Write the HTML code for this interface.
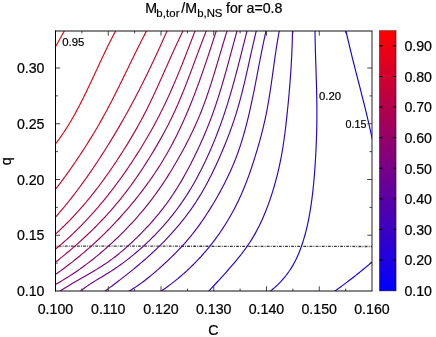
<!DOCTYPE html>
<html><head><meta charset="utf-8"><title>M_b,tor/M_b,NS for a=0.8</title>
<style>html,body{margin:0;padding:0;background:#fff;overflow:hidden}svg{display:block;will-change:transform;font-family:"Liberation Sans",sans-serif}</style></head>
<body>
<svg width="436" height="337" viewBox="0 0 436 337">
<rect x="0" y="0" width="436" height="337" fill="#ffffff"/>
<defs><linearGradient id="cb" x1="0" y1="0" x2="0" y2="1"><stop offset="0" stop-color="rgb(255,0,0)"/><stop offset="1" stop-color="rgb(0,0,255)"/></linearGradient><clipPath id="clip"><rect x="55.5" y="31.0" width="316.5" height="260.0"/></clipPath></defs>
<path d="M55.5,246.05L372.0,246.5" stroke="#3c3c3c" stroke-width="1.3" stroke-dasharray="2.9,1.16,0.9,1.16" stroke-dashoffset="3.04" fill="none"/>
<g fill="none" stroke-width="1.15" clip-path="url(#clip)" stroke-linecap="butt">
<path d="M65.28,29.26L54.52,48.44" stroke="rgb(255,0,0)"/>
<path d="M116.55,29.24L115.58,31.03L114.63,32.82L113.68,34.62L112.74,36.42L111.81,38.22L110.89,40.03L109.97,41.85L109.06,43.66L108.16,45.49L107.26,47.31L106.37,49.14L105.49,50.97L104.61,52.80L103.74,54.63L102.86,56.47L102.00,58.31L101.13,60.15L100.27,61.99L99.41,63.83L98.55,65.68L97.69,67.52L96.84,69.37L95.98,71.21L95.12,73.06L94.27,74.90L93.41,76.75L92.55,78.59L91.69,80.43L90.82,82.27L89.96,84.11L89.09,85.95L88.21,87.78L87.33,89.62L86.45,91.45L85.56,93.28L84.67,95.10L83.77,96.93L82.86,98.75L81.95,100.56L81.03,102.37L80.10,104.18L79.16,105.98L78.22,107.78L77.26,109.58L76.30,111.36L75.33,113.15L74.34,114.93L73.34,116.70L72.34,118.47L71.32,120.23L70.29,121.98L69.24,123.72L68.18,125.46L67.11,127.19L66.02,128.90L64.92,130.61L63.81,132.31L62.67,134.00L61.52,135.68L60.36,137.34L59.18,138.99L57.98,140.63L56.76,142.26L55.52,143.87L54.26,145.47" stroke="rgb(240,0,15)"/>
<path d="M147.43,29.23L146.49,31.03L145.54,32.83L144.60,34.63L143.67,36.43L142.74,38.24L141.82,40.05L140.90,41.86L139.99,43.68L139.08,45.49L138.17,47.31L137.26,49.13L136.36,50.95L135.46,52.77L134.56,54.60L133.67,56.42L132.78,58.25L131.88,60.07L130.99,61.90L130.10,63.73L129.22,65.56L128.33,67.39L127.44,69.22L126.55,71.04L125.66,72.87L124.77,74.70L123.88,76.53L122.99,78.36L122.10,80.18L121.20,82.01L120.31,83.83L119.41,85.66L118.51,87.48L117.60,89.30L116.69,91.12L115.78,92.93L114.87,94.75L113.95,96.56L113.03,98.37L112.10,100.18L111.17,101.99L110.24,103.79L109.29,105.59L108.35,107.39L107.39,109.18L106.44,110.97L105.47,112.76L104.50,114.55L103.52,116.33L102.53,118.10L101.54,119.88L100.54,121.65L99.54,123.41L98.52,125.18L97.51,126.93L96.48,128.69L95.45,130.44L94.41,132.19L93.36,133.93L92.31,135.67L91.25,137.41L90.19,139.14L89.12,140.87L88.04,142.59L86.96,144.31L85.87,146.03L84.77,147.74L83.67,149.45L82.56,151.15L81.45,152.86L80.33,154.55L79.20,156.25L78.07,157.94L76.94,159.62L75.79,161.30L74.64,162.98L73.49,164.65L72.33,166.32L71.16,167.99L69.99,169.65L68.82,171.31L67.63,172.96L66.45,174.61L65.25,176.26L64.05,177.90L62.85,179.54L61.64,181.17L60.43,182.80L59.21,184.42L57.98,186.04L56.75,187.66L55.52,189.27L54.28,190.88" stroke="rgb(225,0,30)"/>
<path d="M167.80,29.17L166.99,31.03L166.17,32.89L165.35,34.75L164.53,36.61L163.70,38.47L162.87,40.33L162.04,42.19L161.20,44.04L160.37,45.90L159.53,47.75L158.68,49.60L157.83,51.45L156.98,53.30L156.13,55.14L155.27,56.99L154.41,58.83L153.55,60.68L152.68,62.52L151.81,64.35L150.93,66.19L150.05,68.03L149.17,69.86L148.29,71.69L147.40,73.52L146.50,75.35L145.60,77.18L144.70,79.00L143.80,80.82L142.89,82.64L141.97,84.46L141.06,86.28L140.14,88.09L139.21,89.90L138.28,91.71L137.35,93.52L136.41,95.33L135.46,97.13L134.52,98.93L133.57,100.73L132.61,102.52L131.65,104.32L130.68,106.11L129.71,107.90L128.74,109.68L127.76,111.47L126.77,113.25L125.79,115.02L124.79,116.80L123.79,118.57L122.79,120.34L121.78,122.11L120.77,123.87L119.75,125.64L118.73,127.39L117.70,129.15L116.67,130.90L115.63,132.65L114.59,134.40L113.54,136.15L112.49,137.89L111.43,139.63L110.37,141.36L109.31,143.09L108.23,144.82L107.16,146.55L106.08,148.28L104.99,150.00L103.90,151.71L102.80,153.43L101.70,155.14L100.60,156.85L99.49,158.56L98.37,160.26L97.25,161.96L96.12,163.65L94.99,165.35L93.86,167.04L92.72,168.72L91.57,170.40L90.42,172.08L89.26,173.75L88.09,175.42L86.92,177.09L85.75,178.75L84.56,180.41L83.38,182.06L82.18,183.71L80.98,185.35L79.77,186.99L78.56,188.62L77.34,190.25L76.12,191.87L74.88,193.49L73.64,195.10L72.40,196.71L71.14,198.31L69.88,199.91L68.61,201.50L67.34,203.08L66.06,204.66L64.77,206.24L63.47,207.80L62.16,209.37L60.85,210.92L59.53,212.47L58.20,214.01L56.87,215.55L55.52,217.07L54.17,218.60" stroke="rgb(210,0,45)"/>
<path d="M183.89,29.21L182.99,31.03L182.09,32.84L181.20,34.67L180.32,36.49L179.44,38.32L178.57,40.15L177.71,41.99L176.85,43.82L176.00,45.66L175.14,47.51L174.30,49.35L173.46,51.20L172.62,53.04L171.78,54.89L170.95,56.74L170.12,58.60L169.29,60.45L168.46,62.30L167.63,64.16L166.81,66.01L165.98,67.87L165.16,69.73L164.33,71.58L163.51,73.44L162.68,75.29L161.85,77.15L161.02,79.00L160.19,80.85L159.36,82.70L158.52,84.55L157.68,86.40L156.84,88.25L156.00,90.10L155.15,91.94L154.29,93.78L153.43,95.62L152.57,97.45L151.70,99.29L150.82,101.12L149.94,102.95L149.05,104.77L148.16,106.59L147.26,108.41L146.35,110.22L145.43,112.03L144.50,113.83L143.57,115.63L142.63,117.43L141.68,119.22L140.72,121.01L139.75,122.79L138.77,124.57L137.78,126.34L136.79,128.11L135.79,129.88L134.78,131.64L133.77,133.40L132.74,135.15L131.71,136.90L130.67,138.64L129.63,140.38L128.58,142.12L127.52,143.85L126.45,145.58L125.38,147.31L124.30,149.03L123.22,150.75L122.13,152.46L121.03,154.17L119.93,155.88L118.82,157.58L117.71,159.28L116.59,160.97L115.46,162.66L114.33,164.35L113.20,166.04L112.05,167.71L110.90,169.39L109.75,171.06L108.58,172.72L107.41,174.38L106.24,176.04L105.06,177.69L103.87,179.34L102.67,180.98L101.46,182.61L100.25,184.24L99.03,185.86L97.81,187.48L96.58,189.09L95.33,190.70L94.09,192.29L92.83,193.89L91.56,195.47L90.29,197.05L89.01,198.62L87.72,200.19L86.42,201.75L85.12,203.30L83.80,204.84L82.48,206.38L81.14,207.91L79.80,209.43L78.45,210.94L77.09,212.45L75.72,213.94L74.34,215.43L72.96,216.91L71.56,218.39L70.15,219.85L68.73,221.30L67.31,222.75L65.87,224.19L64.42,225.61L62.97,227.03L61.50,228.44L60.02,229.84L58.53,231.23L57.03,232.61L55.52,233.98L54.00,235.34" stroke="rgb(195,0,60)"/>
<path d="M195.71,29.13L194.99,31.03L194.27,32.92L193.55,34.82L192.83,36.71L192.11,38.61L191.39,40.51L190.66,42.40L189.94,44.30L189.21,46.19L188.48,48.09L187.75,49.98L187.02,51.87L186.28,53.77L185.55,55.66L184.80,57.55L184.06,59.44L183.31,61.33L182.56,63.22L181.81,65.10L181.05,66.99L180.29,68.87L179.52,70.76L178.75,72.64L177.98,74.51L177.20,76.39L176.41,78.26L175.62,80.14L174.83,82.01L174.03,83.87L173.22,85.74L172.41,87.60L171.59,89.46L170.77,91.32L169.94,93.17L169.10,95.02L168.26,96.87L167.41,98.71L166.55,100.55L165.69,102.39L164.82,104.22L163.94,106.05L163.05,107.88L162.16,109.70L161.26,111.52L160.35,113.33L159.43,115.14L158.50,116.95L157.56,118.75L156.62,120.55L155.66,122.34L154.70,124.13L153.73,125.91L152.76,127.69L151.77,129.47L150.78,131.24L149.78,133.01L148.77,134.77L147.75,136.53L146.73,138.28L145.70,140.03L144.66,141.78L143.61,143.52L142.56,145.26L141.50,146.99L140.43,148.72L139.36,150.45L138.28,152.17L137.19,153.88L136.10,155.60L135.00,157.31L133.90,159.01L132.79,160.71L131.67,162.41L130.54,164.10L129.41,165.78L128.28,167.47L127.13,169.15L125.98,170.82L124.82,172.49L123.66,174.15L122.49,175.81L121.31,177.46L120.12,179.11L118.93,180.76L117.73,182.40L116.52,184.03L115.31,185.66L114.09,187.28L112.86,188.90L111.62,190.51L110.38,192.11L109.13,193.71L107.87,195.31L106.60,196.90L105.32,198.48L104.04,200.05L102.75,201.62L101.45,203.19L100.14,204.74L98.83,206.30L97.50,207.84L96.17,209.38L94.83,210.91L93.49,212.43L92.13,213.94L90.77,215.45L89.40,216.95L88.02,218.45L86.63,219.93L85.23,221.41L83.83,222.88L82.41,224.34L80.99,225.79L79.56,227.23L78.12,228.67L76.68,230.10L75.22,231.52L73.76,232.92L72.28,234.32L70.80,235.71L69.31,237.10L67.82,238.47L66.31,239.83L64.80,241.18L63.27,242.52L61.74,243.86L60.20,245.18L58.65,246.49L57.09,247.79L55.52,249.08L53.95,250.36" stroke="rgb(180,0,75)"/>
<path d="M206.99,29.15L206.24,31.02L205.50,32.89L204.77,34.76L204.04,36.64L203.31,38.51L202.59,40.39L201.88,42.28L201.16,44.16L200.45,46.05L199.74,47.93L199.03,49.82L198.33,51.71L197.62,53.60L196.92,55.49L196.22,57.39L195.52,59.28L194.81,61.17L194.11,63.06L193.41,64.96L192.70,66.85L192.00,68.74L191.29,70.63L190.58,72.52L189.87,74.41L189.15,76.30L188.43,78.19L187.71,80.07L186.99,81.96L186.25,83.84L185.52,85.72L184.78,87.59L184.03,89.47L183.28,91.34L182.52,93.21L181.76,95.08L180.99,96.94L180.21,98.80L179.43,100.66L178.63,102.51L177.83,104.36L177.02,106.21L176.20,108.05L175.37,109.89L174.53,111.72L173.68,113.55L172.82,115.37L171.95,117.19L171.07,119.00L170.18,120.81L169.28,122.61L168.37,124.41L167.45,126.21L166.52,128.00L165.58,129.78L164.63,131.56L163.68,133.34L162.71,135.11L161.73,136.87L160.75,138.64L159.76,140.39L158.76,142.15L157.75,143.90L156.74,145.64L155.72,147.38L154.69,149.12L153.65,150.85L152.61,152.58L151.56,154.31L150.50,156.03L149.44,157.75L148.37,159.46L147.29,161.17L146.21,162.87L145.12,164.57L144.03,166.27L142.93,167.96L141.82,169.65L140.70,171.33L139.58,173.01L138.45,174.68L137.31,176.35L136.16,178.01L135.01,179.66L133.85,181.31L132.68,182.95L131.50,184.59L130.31,186.22L129.11,187.85L127.91,189.46L126.69,191.07L125.47,192.68L124.24,194.27L123.00,195.86L121.75,197.44L120.49,199.02L119.22,200.58L117.94,202.14L116.65,203.69L115.35,205.24L114.04,206.77L112.72,208.30L111.39,209.82L110.06,211.33L108.71,212.84L107.36,214.33L106.00,215.82L104.63,217.31L103.25,218.78L101.87,220.25L100.47,221.71L99.07,223.16L97.66,224.61L96.24,226.04L94.82,227.48L93.38,228.90L91.94,230.31L90.50,231.72L89.04,233.13L87.58,234.52L86.11,235.91L84.64,237.29L83.16,238.66L81.67,240.03L80.17,241.39L78.67,242.74L77.17,244.08L75.66,245.42L74.14,246.75L72.61,248.08L71.09,249.39L69.55,250.70L68.01,252.01L66.46,253.30L64.91,254.59L63.36,255.88L61.80,257.15L60.23,258.42L58.67,259.68L57.09,260.94L55.51,262.19L53.93,263.43" stroke="rgb(165,0,90)"/>
<path d="M216.86,29.10L216.24,31.02L215.62,32.95L215.00,34.88L214.37,36.80L213.75,38.73L213.12,40.66L212.50,42.58L211.87,44.51L211.24,46.43L210.61,48.36L209.98,50.28L209.35,52.21L208.71,54.13L208.07,56.06L207.43,57.98L206.79,59.90L206.14,61.82L205.49,63.74L204.84,65.66L204.18,67.58L203.52,69.49L202.86,71.41L202.19,73.32L201.52,75.23L200.84,77.14L200.16,79.05L199.47,80.96L198.78,82.86L198.09,84.77L197.39,86.67L196.68,88.57L195.97,90.47L195.25,92.36L194.53,94.25L193.80,96.14L193.07,98.03L192.33,99.92L191.58,101.80L190.82,103.68L190.06,105.56L189.29,107.43L188.52,109.30L187.73,111.17L186.94,113.04L186.14,114.90L185.34,116.76L184.52,118.62L183.70,120.47L182.86,122.32L182.02,124.16L181.17,126.01L180.32,127.84L179.45,129.68L178.57,131.50L177.69,133.33L176.79,135.15L175.89,136.96L174.97,138.77L174.05,140.57L173.11,142.37L172.17,144.17L171.21,145.95L170.25,147.74L169.27,149.51L168.29,151.28L167.29,153.05L166.28,154.81L165.26,156.56L164.23,158.30L163.19,160.04L162.13,161.77L161.07,163.50L160.00,165.21L158.91,166.93L157.81,168.63L156.71,170.33L155.59,172.02L154.46,173.71L153.33,175.38L152.18,177.06L151.02,178.72L149.86,180.38L148.68,182.03L147.50,183.68L146.30,185.32L145.10,186.95L143.89,188.58L142.67,190.20L141.44,191.81L140.20,193.42L138.95,195.02L137.70,196.62L136.44,198.20L135.17,199.78L133.89,201.36L132.60,202.93L131.31,204.49L130.01,206.05L128.70,207.60L127.38,209.14L126.06,210.67L124.72,212.20L123.38,213.72L122.04,215.24L120.68,216.75L119.32,218.25L117.95,219.74L116.57,221.23L115.18,222.71L113.79,224.18L112.39,225.65L110.98,227.11L109.57,228.56L108.14,230.00L106.71,231.44L105.27,232.87L103.83,234.29L102.38,235.70L100.92,237.11L99.45,238.51L97.98,239.90L96.49,241.28L95.01,242.66L93.51,244.03L92.01,245.39L90.50,246.74L88.98,248.08L87.46,249.42L85.92,250.75L84.39,252.07L82.84,253.38L81.29,254.68L79.73,255.98L78.16,257.27L76.59,258.54L75.01,259.81L73.42,261.08L71.83,262.33L70.23,263.57L68.62,264.81L67.01,266.04L65.39,267.26L63.76,268.47L62.12,269.67L60.48,270.86L58.84,272.04L57.18,273.22L55.52,274.39L53.85,275.54" stroke="rgb(150,0,105)"/>
<path d="M227.60,29.10L227.00,31.02L226.40,32.94L225.81,34.86L225.22,36.78L224.63,38.71L224.05,40.63L223.47,42.56L222.89,44.49L222.32,46.43L221.74,48.36L221.17,50.29L220.60,52.23L220.02,54.16L219.45,56.10L218.88,58.03L218.31,59.97L217.73,61.91L217.16,63.84L216.58,65.78L216.00,67.71L215.42,69.65L214.83,71.58L214.24,73.51L213.65,75.44L213.05,77.37L212.45,79.30L211.85,81.23L211.23,83.15L210.62,85.07L209.99,86.99L209.36,88.91L208.72,90.82L208.08,92.74L207.43,94.65L206.77,96.55L206.10,98.45L205.42,100.35L204.73,102.25L204.04,104.14L203.33,106.03L202.61,107.91L201.89,109.79L201.15,111.67L200.40,113.54L199.63,115.40L198.86,117.26L198.07,119.12L197.28,120.97L196.47,122.82L195.65,124.66L194.81,126.50L193.97,128.33L193.12,130.16L192.25,131.98L191.38,133.80L190.49,135.61L189.60,137.42L188.70,139.23L187.78,141.03L186.86,142.82L185.93,144.61L184.99,146.40L184.04,148.18L183.09,149.96L182.12,151.74L181.15,153.51L180.17,155.27L179.18,157.04L178.18,158.79L177.18,160.55L176.17,162.30L175.15,164.04L174.13,165.78L173.09,167.52L172.05,169.25L171.00,170.97L169.94,172.69L168.88,174.41L167.80,176.11L166.72,177.82L165.62,179.51L164.52,181.20L163.41,182.89L162.29,184.56L161.16,186.23L160.01,187.90L158.86,189.55L157.70,191.20L156.53,192.84L155.35,194.48L154.16,196.10L152.96,197.72L151.75,199.33L150.52,200.94L149.29,202.53L148.05,204.12L146.79,205.70L145.52,207.27L144.25,208.83L142.96,210.38L141.67,211.93L140.36,213.46L139.05,214.99L137.72,216.52L136.39,218.03L135.04,219.54L133.69,221.03L132.33,222.52L130.95,224.00L129.57,225.48L128.18,226.94L126.79,228.40L125.38,229.85L123.96,231.29L122.54,232.73L121.10,234.15L119.66,235.57L118.21,236.98L116.76,238.39L115.29,239.78L113.82,241.17L112.34,242.55L110.85,243.92L109.35,245.28L107.85,246.64L106.34,247.99L104.82,249.32L103.29,250.65L101.75,251.97L100.21,253.28L98.66,254.58L97.10,255.87L95.53,257.15L93.96,258.43L92.38,259.69L90.78,260.94L89.19,262.17L87.58,263.40L85.96,264.62L84.34,265.83L82.71,267.02L81.07,268.20L79.43,269.37L77.77,270.53L76.11,271.68L74.44,272.81L72.76,273.93L71.07,275.04L69.37,276.13L67.67,277.21L65.96,278.28L64.24,279.33L62.51,280.37L60.77,281.40L59.03,282.41L57.28,283.41L55.51,284.39L53.75,285.36" stroke="rgb(135,0,120)"/>
<path d="M237.54,29.08L237.00,31.01L236.46,32.95L235.92,34.89L235.38,36.82L234.85,38.76L234.32,40.70L233.79,42.65L233.26,44.59L232.73,46.53L232.21,48.48L231.68,50.42L231.15,52.37L230.63,54.31L230.10,56.26L229.57,58.20L229.04,60.15L228.51,62.09L227.98,64.04L227.45,65.98L226.91,67.93L226.37,69.87L225.83,71.81L225.29,73.75L224.74,75.69L224.19,77.63L223.63,79.57L223.07,81.51L222.51,83.44L221.94,85.37L221.36,87.31L220.78,89.24L220.19,91.16L219.60,93.09L219.00,95.01L218.39,96.93L217.78,98.85L217.16,100.77L216.53,102.68L215.89,104.59L215.25,106.50L214.60,108.40L213.93,110.30L213.26,112.20L212.58,114.10L211.89,115.99L211.19,117.87L210.48,119.76L209.75,121.64L209.02,123.51L208.28,125.39L207.54,127.26L206.78,129.12L206.01,130.98L205.23,132.84L204.45,134.70L203.65,136.55L202.85,138.40L202.04,140.24L201.22,142.08L200.39,143.92L199.55,145.75L198.70,147.58L197.85,149.41L196.99,151.23L196.12,153.05L195.24,154.87L194.36,156.68L193.46,158.49L192.56,160.30L191.65,162.10L190.74,163.90L189.81,165.69L188.87,167.48L187.93,169.26L186.98,171.04L186.01,172.82L185.04,174.58L184.06,176.34L183.06,178.10L182.06,179.85L181.04,181.59L180.01,183.32L178.97,185.05L177.92,186.77L176.86,188.48L175.78,190.18L174.69,191.87L173.59,193.56L172.48,195.24L171.35,196.90L170.21,198.56L169.05,200.21L167.88,201.85L166.69,203.48L165.49,205.10L164.28,206.70L163.06,208.30L161.82,209.89L160.57,211.47L159.30,213.04L158.03,214.60L156.74,216.16L155.44,217.70L154.13,219.23L152.80,220.75L151.47,222.27L150.12,223.77L148.77,225.27L147.40,226.75L146.02,228.23L144.63,229.70L143.24,231.15L141.83,232.60L140.41,234.04L138.98,235.47L137.55,236.89L136.10,238.31L134.65,239.71L133.19,241.11L131.72,242.49L130.24,243.87L128.75,245.23L127.25,246.59L125.75,247.93L124.23,249.26L122.70,250.58L121.16,251.88L119.61,253.17L118.05,254.44L116.48,255.70L114.89,256.94L113.29,258.16L111.68,259.36L110.05,260.55L108.42,261.71L106.76,262.86L105.10,263.98L103.42,265.09L101.73,266.19L100.03,267.27L98.33,268.33L96.61,269.38L94.89,270.43L93.16,271.46L91.42,272.48L89.68,273.50L87.94,274.51L86.19,275.52L84.44,276.53L82.69,277.53L80.94,278.53L79.19,279.54L77.44,280.54L75.69,281.55L73.95,282.56L72.21,283.58L70.47,284.61L68.74,285.64L67.02,286.69L65.30,287.75L63.60,288.81L61.90,289.90L60.21,290.99L58.54,292.11" stroke="rgb(120,0,135)"/>
<path d="M247.49,29.07L246.99,31.02L246.50,32.98L246.00,34.94L245.50,36.90L245.01,38.86L244.51,40.82L244.02,42.79L243.53,44.75L243.03,46.71L242.54,48.67L242.04,50.64L241.55,52.60L241.05,54.56L240.56,56.53L240.06,58.49L239.56,60.45L239.06,62.41L238.55,64.37L238.04,66.33L237.54,68.30L237.02,70.25L236.51,72.21L235.99,74.17L235.47,76.13L234.94,78.08L234.41,80.04L233.88,81.99L233.34,83.94L232.80,85.89L232.25,87.84L231.69,89.79L231.14,91.74L230.57,93.68L230.00,95.62L229.42,97.56L228.84,99.50L228.25,101.44L227.66,103.37L227.05,105.30L226.44,107.23L225.83,109.16L225.20,111.09L224.57,113.01L223.92,114.93L223.27,116.84L222.62,118.76L221.95,120.67L221.27,122.58L220.59,124.48L219.89,126.38L219.19,128.28L218.48,130.18L217.76,132.07L217.04,133.96L216.30,135.84L215.55,137.73L214.80,139.61L214.03,141.48L213.26,143.35L212.48,145.22L211.69,147.09L210.89,148.95L210.08,150.81L209.26,152.66L208.43,154.51L207.60,156.35L206.75,158.20L205.89,160.03L205.03,161.87L204.15,163.69L203.27,165.52L202.37,167.34L201.46,169.15L200.55,170.96L199.62,172.76L198.68,174.56L197.73,176.35L196.77,178.13L195.79,179.91L194.81,181.68L193.81,183.44L192.80,185.19L191.77,186.94L190.74,188.68L189.69,190.41L188.63,192.14L187.55,193.85L186.46,195.56L185.36,197.26L184.24,198.94L183.10,200.62L181.96,202.29L180.80,203.95L179.62,205.60L178.43,207.24L177.23,208.87L176.02,210.50L174.79,212.11L173.55,213.71L172.29,215.30L171.02,216.88L169.74,218.45L168.45,220.01L167.14,221.57L165.82,223.11L164.49,224.64L163.15,226.16L161.80,227.67L160.43,229.17L159.06,230.66L157.67,232.14L156.27,233.61L154.86,235.07L153.43,236.52L152.00,237.96L150.56,239.39L149.10,240.80L147.64,242.21L146.16,243.60L144.68,244.99L143.18,246.36L141.68,247.72L140.16,249.07L138.64,250.41L137.10,251.74L135.55,253.05L134.00,254.35L132.43,255.64L130.85,256.91L129.27,258.18L127.67,259.42L126.06,260.66L124.44,261.88L122.82,263.09L121.18,264.28L119.53,265.46L117.87,266.63L116.21,267.78L114.53,268.91L112.84,270.03L111.14,271.14L109.44,272.22L107.72,273.30L106.00,274.36L104.26,275.41L102.53,276.45L100.79,277.49L99.06,278.53L97.32,279.58L95.59,280.63L93.87,281.69L92.16,282.77L90.46,283.86L88.77,284.98L87.10,286.12L85.45,287.28L83.82,288.48L82.20,289.71L80.62,290.98L79.06,292.30" stroke="rgb(105,0,150)"/>
<path d="M256.73,29.06L256.25,31.01L255.77,32.96L255.31,34.92L254.84,36.87L254.38,38.83L253.93,40.79L253.48,42.75L253.03,44.71L252.58,46.67L252.14,48.63L251.70,50.60L251.26,52.56L250.83,54.53L250.39,56.50L249.95,58.46L249.52,60.43L249.08,62.40L248.64,64.36L248.20,66.33L247.76,68.30L247.32,70.26L246.87,72.23L246.43,74.20L245.98,76.16L245.52,78.12L245.06,80.09L244.60,82.05L244.13,84.01L243.66,85.96L243.18,87.92L242.70,89.88L242.21,91.83L241.71,93.78L241.21,95.73L240.69,97.68L240.17,99.62L239.65,101.56L239.11,103.50L238.56,105.44L238.01,107.37L237.44,109.30L236.86,111.23L236.28,113.15L235.68,115.07L235.07,116.99L234.44,118.90L233.81,120.81L233.17,122.72L232.51,124.62L231.85,126.52L231.17,128.42L230.49,130.31L229.79,132.20L229.09,134.09L228.37,135.97L227.65,137.85L226.91,139.72L226.17,141.60L225.42,143.46L224.66,145.33L223.89,147.19L223.12,149.05L222.33,150.91L221.54,152.77L220.74,154.62L219.94,156.47L219.12,158.31L218.30,160.15L217.47,161.99L216.63,163.83L215.79,165.66L214.94,167.48L214.07,169.31L213.20,171.12L212.32,172.94L211.43,174.74L210.52,176.55L209.61,178.34L208.69,180.13L207.75,181.92L206.80,183.69L205.84,185.46L204.87,187.23L203.89,188.98L202.89,190.73L201.87,192.47L200.85,194.20L199.81,195.92L198.75,197.64L197.68,199.34L196.60,201.04L195.50,202.73L194.38,204.40L193.25,206.07L192.11,207.73L190.95,209.38L189.78,211.02L188.59,212.65L187.39,214.27L186.18,215.88L184.96,217.48L183.72,219.07L182.47,220.65L181.20,222.23L179.93,223.79L178.64,225.34L177.34,226.89L176.03,228.42L174.70,229.95L173.37,231.46L172.02,232.96L170.67,234.46L169.30,235.94L167.93,237.42L166.54,238.88L165.14,240.34L163.74,241.78L162.32,243.22L160.90,244.64L159.46,246.06L158.02,247.46L156.57,248.86L155.11,250.25L153.64,251.63L152.16,253.00L150.68,254.36L149.19,255.71L147.69,257.06L146.18,258.40L144.67,259.73L143.15,261.05L141.62,262.36L140.09,263.67L138.55,264.97L137.01,266.27L135.46,267.55L133.90,268.84L132.34,270.11L130.78,271.38L129.21,272.64L127.63,273.90L126.05,275.15L124.47,276.40L122.88,277.64L121.29,278.87L119.69,280.10L118.09,281.33L116.49,282.55L114.89,283.77L113.28,284.98L111.67,286.19L110.06,287.40L108.44,288.60L106.83,289.80L105.21,290.99L103.59,292.18" stroke="rgb(90,0,165)"/>
<path d="M266.44,29.05L265.99,31.02L265.55,33.00L265.11,34.98L264.68,36.96L264.26,38.94L263.84,40.92L263.42,42.90L263.01,44.88L262.60,46.86L262.20,48.85L261.80,50.83L261.41,52.82L261.01,54.80L260.62,56.79L260.24,58.78L259.85,60.76L259.47,62.75L259.08,64.74L258.70,66.73L258.32,68.71L257.94,70.70L257.56,72.69L257.18,74.68L256.80,76.66L256.41,78.65L256.03,80.64L255.64,82.62L255.25,84.61L254.86,86.60L254.47,88.58L254.07,90.57L253.68,92.55L253.27,94.53L252.86,96.52L252.45,98.50L252.04,100.48L251.61,102.46L251.19,104.44L250.75,106.42L250.32,108.39L249.87,110.37L249.42,112.35L248.96,114.32L248.49,116.29L248.02,118.26L247.54,120.23L247.05,122.20L246.55,124.16L246.04,126.12L245.52,128.08L244.99,130.04L244.45,132.00L243.90,133.95L243.34,135.89L242.76,137.84L242.18,139.78L241.58,141.71L240.97,143.64L240.34,145.57L239.71,147.49L239.05,149.40L238.39,151.32L237.70,153.22L237.01,155.12L236.29,157.01L235.57,158.90L234.82,160.78L234.06,162.66L233.29,164.53L232.50,166.39L231.69,168.25L230.87,170.10L230.04,171.94L229.19,173.78L228.33,175.61L227.45,177.44L226.57,179.26L225.67,181.08L224.76,182.89L223.83,184.69L222.90,186.49L221.95,188.29L220.99,190.07L220.02,191.86L219.04,193.63L218.05,195.41L217.05,197.17L216.04,198.93L215.02,200.69L213.99,202.44L212.95,204.19L211.90,205.92L210.84,207.66L209.77,209.38L208.69,211.10L207.59,212.81L206.49,214.51L205.38,216.21L204.25,217.90L203.11,219.58L201.96,221.25L200.80,222.91L199.62,224.56L198.44,226.20L197.24,227.83L196.02,229.45L194.80,231.06L193.55,232.66L192.30,234.25L191.03,235.83L189.75,237.39L188.45,238.95L187.14,240.49L185.82,242.01L184.48,243.53L183.12,245.03L181.75,246.52L180.37,248.00L178.98,249.47L177.58,250.93L176.16,252.38L174.73,253.81L173.30,255.24L171.85,256.66L170.39,258.07L168.93,259.47L167.46,260.87L165.98,262.25L164.49,263.63L163.00,265.00L161.50,266.37L159.99,267.73L158.48,269.08L156.96,270.42L155.43,271.75L153.89,273.07L152.35,274.38L150.79,275.67L149.22,276.95L147.65,278.22L146.06,279.47L144.46,280.71L142.84,281.93L141.22,283.13L139.58,284.32L137.92,285.48L136.25,286.63L134.57,287.75L132.87,288.85L131.15,289.93L129.42,290.99L127.67,292.02" stroke="rgb(75,0,180)"/>
<path d="M279.62,29.04L279.25,31.02L278.88,33.00L278.52,34.99L278.17,36.98L277.83,38.97L277.49,40.96L277.17,42.95L276.85,44.95L276.53,46.94L276.23,48.94L275.92,50.94L275.63,52.93L275.33,54.93L275.04,56.93L274.76,58.94L274.48,60.94L274.19,62.94L273.92,64.94L273.64,66.95L273.36,68.95L273.08,70.95L272.81,72.95L272.53,74.96L272.25,76.96L271.97,78.96L271.68,80.97L271.40,82.97L271.11,84.97L270.82,86.97L270.52,88.97L270.22,90.97L269.91,92.96L269.60,94.96L269.28,96.96L268.95,98.95L268.62,100.94L268.28,102.93L267.93,104.92L267.57,106.91L267.20,108.89L266.82,110.88L266.43,112.86L266.03,114.84L265.62,116.81L265.20,118.79L264.77,120.76L264.33,122.73L263.87,124.70L263.41,126.67L262.93,128.63L262.45,130.59L261.95,132.55L261.45,134.51L260.94,136.46L260.42,138.41L259.88,140.37L259.34,142.31L258.80,144.26L258.24,146.20L257.68,148.15L257.10,150.09L256.52,152.02L255.94,153.96L255.34,155.89L254.74,157.83L254.13,159.76L253.52,161.68L252.89,163.61L252.26,165.53L251.62,167.45L250.97,169.37L250.31,171.28L249.64,173.19L248.97,175.09L248.28,176.99L247.58,178.89L246.86,180.78L246.14,182.67L245.40,184.55L244.65,186.43L243.89,188.30L243.11,190.16L242.32,192.02L241.52,193.88L240.70,195.72L239.86,197.56L239.01,199.40L238.15,201.22L237.27,203.04L236.37,204.85L235.46,206.66L234.53,208.45L233.58,210.24L232.62,212.02L231.64,213.80L230.65,215.56L229.65,217.31L228.62,219.06L227.59,220.80L226.53,222.53L225.47,224.25L224.38,225.96L223.28,227.66L222.17,229.35L221.04,231.03L219.90,232.71L218.74,234.37L217.57,236.02L216.38,237.66L215.18,239.29L213.96,240.92L212.73,242.53L211.49,244.12L210.23,245.71L208.95,247.29L207.66,248.85L206.36,250.41L205.05,251.95L203.72,253.48L202.37,255.00L201.02,256.51L199.65,258.00L198.26,259.48L196.87,260.95L195.46,262.41L194.04,263.85L192.60,265.28L191.15,266.70L189.69,268.11L188.22,269.50L186.74,270.88L185.24,272.24L183.73,273.59L182.21,274.93L180.68,276.25L179.13,277.56L177.58,278.86L176.01,280.14L174.43,281.40L172.84,282.66L171.24,283.89L169.63,285.11L168.01,286.32L166.38,287.51L164.73,288.68L163.08,289.84L161.42,290.99L159.74,292.12" stroke="rgb(60,0,195)"/>
<path d="M292.53,29.00L292.50,31.02L292.47,33.05L292.43,35.08L292.38,37.10L292.33,39.13L292.27,41.15L292.21,43.18L292.14,45.20L292.07,47.23L291.99,49.25L291.91,51.27L291.82,53.30L291.73,55.32L291.63,57.34L291.52,59.36L291.41,61.38L291.30,63.40L291.18,65.43L291.06,67.45L290.93,69.47L290.80,71.49L290.67,73.50L290.53,75.52L290.38,77.54L290.23,79.56L290.08,81.58L289.92,83.60L289.76,85.62L289.59,87.63L289.43,89.65L289.25,91.67L289.08,93.69L288.90,95.70L288.71,97.72L288.53,99.74L288.33,101.75L288.14,103.77L287.94,105.78L287.74,107.80L287.54,109.81L287.33,111.83L287.12,113.84L286.91,115.86L286.69,117.87L286.47,119.89L286.25,121.90L286.02,123.92L285.79,125.93L285.55,127.94L285.31,129.95L285.06,131.96L284.80,133.97L284.53,135.98L284.26,137.99L283.98,139.99L283.69,142.00L283.39,144.00L283.09,146.00L282.77,148.00L282.44,150.00L282.10,151.99L281.75,153.99L281.39,155.98L281.02,157.97L280.63,159.95L280.23,161.94L279.82,163.92L279.39,165.90L278.96,167.88L278.51,169.85L278.04,171.82L277.57,173.79L277.08,175.75L276.57,177.72L276.06,179.67L275.53,181.63L274.99,183.58L274.43,185.53L273.87,187.48L273.28,189.42L272.69,191.36L272.08,193.30L271.46,195.23L270.82,197.16L270.17,199.08L269.51,201.01L268.83,202.92L268.14,204.83L267.43,206.74L266.71,208.64L265.97,210.54L265.21,212.42L264.44,214.31L263.65,216.18L262.84,218.04L262.02,219.90L261.17,221.74L260.31,223.58L259.42,225.41L258.52,227.22L257.59,229.03L256.65,230.82L255.68,232.60L254.69,234.37L253.68,236.12L252.65,237.86L251.59,239.59L250.51,241.30L249.41,242.99L248.28,244.67L247.13,246.34L245.96,247.99L244.77,249.63L243.57,251.26L242.34,252.88L241.10,254.48L239.85,256.08L238.58,257.66L237.30,259.23L236.01,260.79L234.71,262.35L233.40,263.89L232.08,265.43L230.75,266.96L229.42,268.49L228.08,270.00L226.73,271.52L225.38,273.03L224.03,274.53L222.67,276.03L221.31,277.53L219.94,279.02L218.57,280.52L217.21,282.01L215.84,283.50L214.47,285.00L213.11,286.49L211.74,287.98L210.38,289.48L209.02,290.98L207.66,292.49" stroke="rgb(45,0,210)"/>
<path d="M314.98,29.00L315.00,31.03L315.03,33.05L315.06,35.08L315.09,37.11L315.13,39.14L315.17,41.16L315.21,43.19L315.26,45.22L315.31,47.24L315.37,49.27L315.42,51.30L315.48,53.33L315.54,55.35L315.60,57.38L315.67,59.41L315.73,61.44L315.79,63.46L315.86,65.49L315.92,67.52L315.99,69.54L316.05,71.57L316.12,73.60L316.18,75.63L316.25,77.65L316.31,79.68L316.37,81.71L316.43,83.74L316.48,85.76L316.53,87.79L316.59,89.82L316.63,91.85L316.68,93.87L316.72,95.90L316.76,97.93L316.79,99.96L316.82,101.98L316.85,104.01L316.87,106.04L316.89,108.07L316.90,110.09L316.90,112.12L316.90,114.15L316.90,116.18L316.88,118.20L316.86,120.23L316.84,122.26L316.81,124.29L316.78,126.32L316.73,128.34L316.69,130.37L316.64,132.40L316.58,134.43L316.51,136.45L316.45,138.48L316.37,140.51L316.30,142.53L316.21,144.56L316.12,146.59L316.03,148.61L315.93,150.64L315.83,152.66L315.73,154.69L315.62,156.71L315.50,158.74L315.38,160.76L315.26,162.79L315.13,164.81L314.99,166.84L314.85,168.86L314.71,170.88L314.55,172.90L314.39,174.92L314.23,176.95L314.05,178.97L313.87,180.99L313.69,183.00L313.49,185.02L313.29,187.04L313.08,189.06L312.86,191.08L312.63,193.09L312.39,195.11L312.14,197.12L311.88,199.14L311.61,201.15L311.34,203.16L311.05,205.17L310.75,207.18L310.43,209.19L310.10,211.19L309.76,213.20L309.41,215.20L309.04,217.19L308.66,219.19L308.26,221.18L307.84,223.17L307.41,225.15L306.95,227.13L306.48,229.10L306.00,231.07L305.49,233.04L304.96,234.99L304.41,236.95L303.84,238.90L303.25,240.84L302.64,242.77L302.00,244.70L301.34,246.62L300.65,248.53L299.93,250.43L299.18,252.32L298.40,254.19L297.59,256.05L296.74,257.90L295.86,259.73L294.94,261.54L293.98,263.33L292.99,265.11L291.95,266.86L290.88,268.59L289.77,270.30L288.62,271.98L287.43,273.63L286.21,275.26L284.95,276.86L283.66,278.43L282.32,279.97L280.96,281.47L279.56,282.94L278.12,284.38L276.65,285.78L275.14,287.14L273.60,288.46L272.03,289.74L270.42,290.98L268.78,292.18" stroke="rgb(30,0,225)"/>
<path d="M345.57,29.05L346.01,31.04L346.45,33.03L346.90,35.01L347.35,37.00L347.81,38.99L348.27,40.97L348.74,42.96L349.21,44.94L349.68,46.92L350.16,48.90L350.64,50.88L351.13,52.86L351.61,54.84L352.10,56.82L352.60,58.80L353.09,60.77L353.59,62.75L354.09,64.72L354.59,66.70L355.09,68.67L355.60,70.65L356.10,72.62L356.61,74.60L357.12,76.57L357.62,78.55L358.13,80.52L358.64,82.49L359.15,84.47L359.65,86.44L360.16,88.41L360.66,90.39L361.17,92.36L361.67,94.34L362.17,96.31L362.67,98.29L363.17,100.27L363.67,102.24L364.16,104.22L364.65,106.20L365.14,108.17L365.63,110.15L366.11,112.13L366.59,114.11L367.06,116.10L367.53,118.08L368.00,120.06L368.46,122.05L368.92,124.03L369.38,126.02L369.83,128.01L370.27,129.99L370.71,131.98L371.14,133.98L371.57,135.97L371.99,137.96L372.41,139.96" stroke="rgb(15,0,240)"/>
<path d="M333.39,292.18L335.10,290.93L336.81,289.67L338.52,288.41L340.24,287.16L341.94,285.90L343.65,284.63L345.35,283.36L347.05,282.09L348.75,280.81L350.43,279.52L352.12,278.23L353.79,276.93L355.46,275.62L357.13,274.30L358.78,272.97L360.43,271.63L362.08,270.29L363.73,268.95L365.37,267.60L367.00,266.25L368.64,264.89L370.27,263.54L371.91,262.18L373.54,260.82" stroke="rgb(15,0,240)"/>
</g>
<path d="M108.25,291.0v-4.7M108.25,31.0v4.7M161.00,291.0v-4.7M161.00,31.0v4.7M213.75,291.0v-4.7M213.75,31.0v4.7M266.50,291.0v-4.7M266.50,31.0v4.7M319.25,291.0v-4.7M319.25,31.0v4.7M81.88,291.0v-2.4M81.88,31.0v2.4M134.62,291.0v-2.4M134.62,31.0v2.4M187.38,291.0v-2.4M187.38,31.0v2.4M240.12,291.0v-2.4M240.12,31.0v2.4M292.88,291.0v-2.4M292.88,31.0v2.4M345.62,291.0v-2.4M345.62,31.0v2.4M55.5,235.25h4.7M372.0,235.25h-4.7M55.5,179.50h4.7M372.0,179.50h-4.7M55.5,123.75h4.7M372.0,123.75h-4.7M55.5,68.00h4.7M372.0,68.00h-4.7M55.5,263.12h2.4M372.0,263.12h-2.4M55.5,207.38h2.4M372.0,207.38h-2.4M55.5,151.62h2.4M372.0,151.62h-2.4M55.5,95.87h2.4M372.0,95.87h-2.4" stroke="#444" stroke-width="1" fill="none"/>
<path d="M55.0,31.0H372.5M55.0,291.0H372.5" fill="none" stroke="#111" stroke-width="1.1"/>
<path d="M372.0,31.0V291.0" fill="none" stroke="#222" stroke-width="1.0"/>
<path d="M55.5,30.5V291.5" fill="none" stroke="#000" stroke-width="1"/>
<rect x="379.4" y="30.6" width="16.700000000000045" height="260.29999999999995" fill="url(#cb)" stroke="#000" stroke-opacity="0.55" stroke-width="0.7"/>
<path d="M379.4,260.01h3.4M396.1,260.01h-3.4M379.4,229.42h3.4M396.1,229.42h-3.4M379.4,198.83h3.4M396.1,198.83h-3.4M379.4,168.24h3.4M396.1,168.24h-3.4M379.4,137.65h3.4M396.1,137.65h-3.4M379.4,107.06h3.4M396.1,107.06h-3.4M379.4,76.47h3.4M396.1,76.47h-3.4M379.4,45.88h3.4M396.1,45.88h-3.4" stroke="#000" stroke-width="1" fill="none"/>
<g font-family="Liberation Sans, sans-serif" font-size="14.2" fill="#000" stroke="#000" stroke-width="0.22">
<text x="55.50" y="314.45" text-anchor="middle">0.100</text>
<text x="108.25" y="314.45" text-anchor="middle">0.110</text>
<text x="161.00" y="314.45" text-anchor="middle">0.120</text>
<text x="213.75" y="314.45" text-anchor="middle">0.130</text>
<text x="266.50" y="314.45" text-anchor="middle">0.140</text>
<text x="319.25" y="314.45" text-anchor="middle">0.150</text>
<text x="372.00" y="314.45" text-anchor="middle">0.160</text>
<text x="44.5" y="296.15" text-anchor="end">0.10</text>
<text x="44.5" y="240.40" text-anchor="end">0.15</text>
<text x="44.5" y="184.65" text-anchor="end">0.20</text>
<text x="44.5" y="128.90" text-anchor="end">0.25</text>
<text x="44.5" y="73.15" text-anchor="end">0.30</text>
<text x="404.4" y="296.00">0.10</text>
<text x="404.4" y="265.41">0.20</text>
<text x="404.4" y="234.82">0.30</text>
<text x="404.4" y="204.23">0.40</text>
<text x="404.4" y="173.64">0.50</text>
<text x="404.4" y="143.05">0.60</text>
<text x="404.4" y="112.46">0.70</text>
<text x="404.4" y="81.87">0.80</text>
<text x="404.4" y="51.28">0.90</text>
<text x="213.3" y="335.1" text-anchor="middle">C</text>
<text transform="translate(10.7,161.3) rotate(-90)" text-anchor="middle">q</text>
<text y="12.5"><tspan x="145.2">M</tspan><tspan x="181.2">/M</tspan><tspan x="226.0">for a=0.8</tspan></text>
<text y="17.0" font-size="11.36" stroke-width="0.2"><tspan x="156.3" letter-spacing="0.12">b,tor</tspan><tspan x="197.2">b,NS</tspan></text>
</g>
<g font-family="Liberation Sans, sans-serif" font-size="11.36" fill="#000" stroke="#000" stroke-width="0.2">
<text x="62.3" y="45.9">0.95</text>
<text x="319.0" y="99.9">0.20</text>
<text x="345.6" y="127.5" textLength="20.9" lengthAdjust="spacingAndGlyphs">0.15</text>
</g>
</svg>
</body></html>
